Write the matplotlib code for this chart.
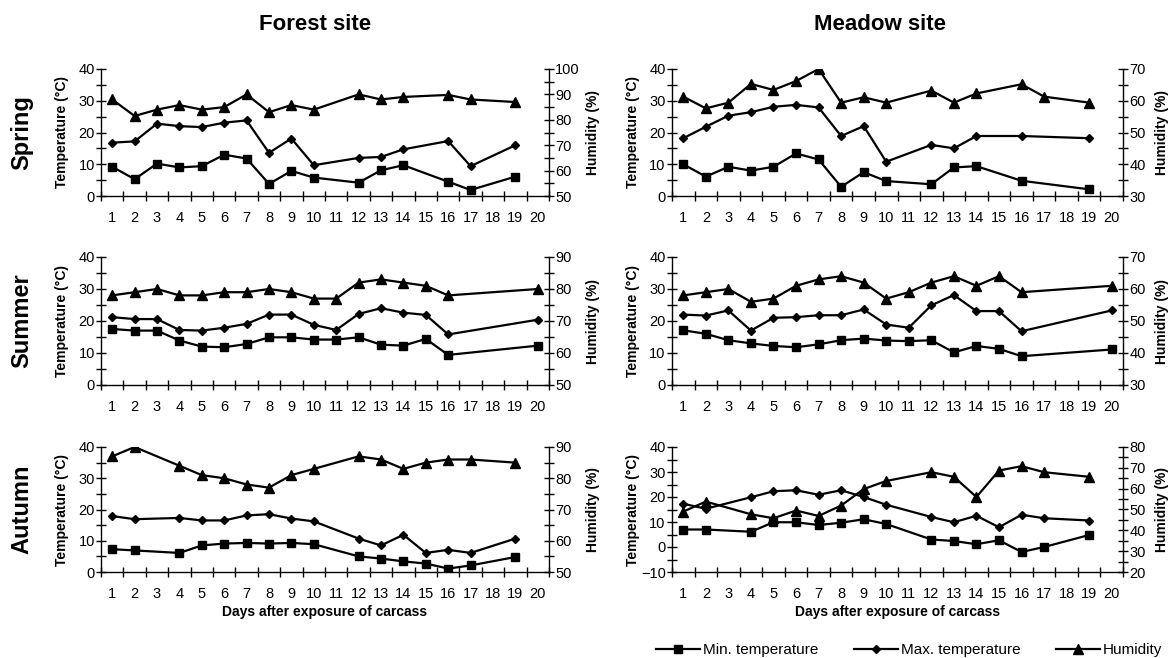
import numpy as np
import matplotlib.pyplot as plt
from matplotlib.ticker import MultipleLocator
from matplotlib.lines import Line2D

plt.rcParams['font.family'] = ['Liberation Sans', 'DejaVu Sans']

# ---- data ----
days_all = list(range(1, 21))

# forest, spring
fs_days = [1, 2, 3, 4, 5, 6, 7, 8, 9, 10, 12, 13, 14, 16, 17, 19]
fs_min = [9.2, 5.3, 10.2, 9.0, 9.4, 13.0, 11.8, 3.8, 7.9, 5.8, 4.2, 8.1, 9.7, 4.5, 1.9, 6.1]
fs_max = [16.8, 17.2, 22.8, 22.0, 21.7, 23.1, 23.8, 13.6, 18.1, 9.7, 12.0, 12.3, 14.7, 17.3, 9.4, 16.0]
fs_hum = [88, 81.5, 84, 85.8, 84, 85, 90, 83, 85.8, 84, 90, 88, 89, 89.8, 88, 87]

# meadow, spring (no temperature reading on day 17)
ms_days_t = [1, 2, 3, 4, 5, 6, 7, 8, 9, 10, 12, 13, 14, 16, 19]
ms_days_h = [1, 2, 3, 4, 5, 6, 7, 8, 9, 10, 12, 13, 14, 16, 17, 19]
ms_min = [10.0, 6.1, 9.2, 8.0, 9.2, 13.4, 11.5, 2.9, 7.5, 4.7, 3.7, 9.0, 9.4, 4.8, 2.1]
ms_max = [18.2, 21.8, 25.3, 26.4, 28.1, 28.7, 27.9, 18.9, 22.0, 10.8, 16.1, 15.0, 18.9, 18.9, 18.2]
ms_hum = [61.3, 57.6, 59.4, 65.3, 63.4, 66.2, 70, 59.4, 61.1, 59.4, 63.2, 59.4, 62.3, 65.2, 61.3, 59.4]

# summer, both sites
su_days = [1, 2, 3, 4, 5, 6, 7, 8, 9, 10, 11, 12, 13, 14, 15, 16, 20]
fu_min = [17.5, 17.0, 17.0, 13.9, 12.0, 11.8, 12.8, 14.9, 14.9, 14.2, 14.2, 14.9, 12.6, 12.3, 14.4, 9.4, 12.3]
fu_max = [21.2, 20.6, 20.6, 17.2, 17.0, 17.9, 19.1, 22.0, 22.0, 18.8, 17.2, 22.2, 24.0, 22.6, 21.9, 15.8, 20.4]
fu_hum = [78, 79, 80, 78, 78, 79, 79, 80, 79, 77, 77, 82, 83, 82, 81, 78, 80]
mu_min = [17.1, 16.0, 14.0, 13.0, 12.2, 11.8, 12.7, 14.0, 14.5, 13.9, 13.7, 14.0, 10.2, 12.2, 11.3, 9.0, 11.1]
mu_max = [22.0, 21.7, 23.3, 17.0, 21.0, 21.2, 21.8, 21.8, 23.6, 18.9, 17.9, 24.9, 28.1, 23.1, 23.1, 16.8, 23.3]
mu_hum = [58, 59, 60, 56, 57, 61, 63, 64, 62, 57, 59, 62, 64, 61, 64, 59, 61]

# autumn, both sites
au_days = [1, 2, 4, 5, 6, 7, 8, 9, 10, 12, 13, 14, 15, 16, 17, 19]
fa_min = [7.3, 6.9, 6.1, 8.5, 9.1, 9.3, 9.1, 9.3, 8.9, 5.0, 4.3, 3.4, 2.7, 1.1, 2.1, 4.8]
fa_max = [17.9, 16.9, 17.3, 16.5, 16.5, 18.1, 18.5, 17.1, 16.2, 10.7, 8.5, 11.9, 6.1, 7.1, 6.1, 10.7]
fa_hum = [87, 90, 84, 81, 80, 78, 77, 81, 83, 87, 86, 83, 85, 86, 86, 85]
ma_min = [7.0, 7.0, 6.1, 9.9, 9.9, 8.8, 9.7, 11.1, 9.2, 3.0, 2.4, 1.1, 2.7, -2.0, 0.0, 4.8]
ma_max = [17.3, 15.3, 19.9, 22.3, 22.7, 20.9, 22.7, 20.0, 16.9, 12.0, 9.9, 12.5, 7.9, 12.9, 11.5, 10.6]
ma_hum = [49.0, 53.8, 47.7, 45.8, 49.5, 46.9, 51.9, 59.8, 63.7, 67.9, 65.7, 56, 68.7, 70.8, 67.9, 65.7]

seasons = ['Spring', 'Summer', 'Autumn']
sites = ['Forest site', 'Meadow site']

# ---- figure layout, in pixels of the 1169x658 picture ----
W, H = 1169, 658
fig = plt.figure(figsize=(W / 100, H / 100), dpi=100)


def box(x0, x1, y0, y1):
    return [x0 / W, 1 - y1 / H, (x1 - x0) / W, (y1 - y0) / H]


col_x = [(101, 549), (672, 1123)]
row_y = [(69, 196), (257, 385), (447, 572)]

panels = [
    (0, 0, fs_days, fs_min, fs_max, fs_days, fs_hum, (0, 40), (50, 100)),
    (0, 1, ms_days_t, ms_min, ms_max, ms_days_h, ms_hum, (0, 40), (30, 70)),
    (1, 0, su_days, fu_min, fu_max, su_days, fu_hum, (0, 40), (50, 90)),
    (1, 1, su_days, mu_min, mu_max, su_days, mu_hum, (0, 40), (30, 70)),
    (2, 0, au_days, fa_min, fa_max, au_days, fa_hum, (0, 40), (50, 90)),
    (2, 1, au_days, ma_min, ma_max, au_days, ma_hum, (-10, 40), (20, 80)),
]

line_kw = dict(color='black', lw=1.6, mec='black', mfc='black')
tick_fs = 10.5

for row, col, t_days, t_min, t_max, h_days, hum, t_lim, h_lim in panels:
    x0, x1 = col_x[col]
    y0, y1 = row_y[row]
    ax = fig.add_axes(box(x0, x1, y0, y1))
    ax.plot(t_days, t_min, marker='s', ms=5.5, **line_kw)
    ax.plot(t_days, t_max, marker='D', ms=4.5, **line_kw)
    ax2 = ax.twinx()
    ax2.plot(h_days, hum, marker='^', ms=6.5, **line_kw)

    ax.set_xlim(0.5, 20.5)
    ax.set_ylim(*t_lim)
    ax2.set_ylim(*h_lim)

    ax.set_xticks(days_all)
    ax.set_xticks(np.arange(0.5, 21, 1), minor=True)
    ax.tick_params(axis='x', which='major', length=0, pad=11, labelsize=tick_fs)
    ax.tick_params(axis='x', which='minor', length=7, width=1, direction='inout')
    for a in (ax, ax2):
        a.yaxis.set_major_locator(MultipleLocator(10))
        a.yaxis.set_minor_locator(MultipleLocator(5))
        a.tick_params(axis='y', which='both', direction='inout', length=7,
                      width=1, pad=1, labelsize=tick_fs)
        a.spines['top'].set_visible(False)
        for s in a.spines.values():
            s.set_linewidth(1.0)
    ax.spines['right'].set_visible(False)
    ax2.spines['left'].set_visible(False)
    ax2.spines['bottom'].set_visible(False)

    ymid = 1 - (y0 + y1) / 2 / H
    fig.text((x0 - 39) / W, ymid, 'Temperature (°C)', rotation=90,
             ha='center', va='center', fontsize=10, fontweight='bold')
    fig.text((x1 + (44 if col == 0 else 39)) / W, ymid, 'Humidity (%)',
             rotation=90, ha='center', va='center', fontsize=10,
             fontweight='bold')
    if col == 0:
        fig.text(22 / W, ymid, seasons[row], rotation=90, ha='center',
                 va='center', fontsize=17, fontweight='bold')
    if row == 2:
        fig.text((x0 + x1) / 2 / W, 1 - 612 / H,
                 'Days after exposure of carcass', ha='center', va='center',
                 fontsize=10, fontweight='bold')

fig.text(315 / W, 1 - 25 / H, sites[0], ha='center', va='center',
         fontsize=16, fontweight='bold')
fig.text(880 / W, 1 - 25 / H, sites[1], ha='center', va='center',
         fontsize=16, fontweight='bold')

handles = [Line2D([], [], marker='s', ms=5.5, **line_kw),
           Line2D([], [], marker='D', ms=4.5, **line_kw),
           Line2D([], [], marker='^', ms=6.5, **line_kw)]
fig.legend(handles, ['Min. temperature', 'Max. temperature', 'Humidity'],
           loc='center', bbox_to_anchor=(909 / W, 1 - 650 / H), ncol=3,
           frameon=False, fontsize=11, handlelength=2.9, handletextpad=0.2,
           columnspacing=2.3, borderaxespad=0, borderpad=0)

fig.savefig('out.png', dpi=100)
